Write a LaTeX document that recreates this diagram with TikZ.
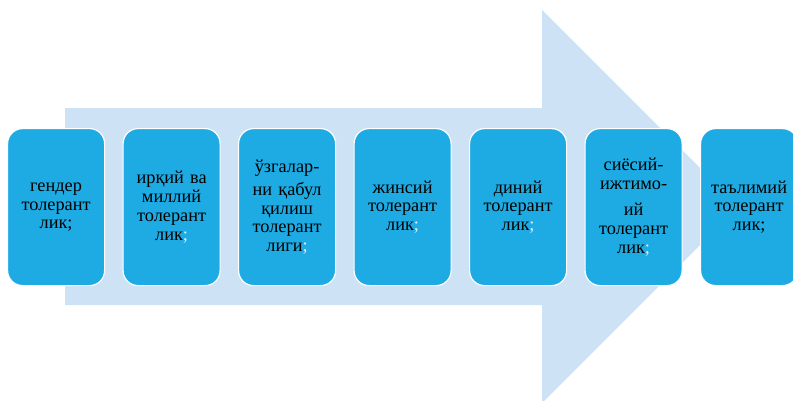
\documentclass[tikz,border=0pt]{standalone}
\usepackage{fontspec}
\setmainfont{Liberation Serif}
\definecolor{arrowblue}{HTML}{CDE2F4}
\definecolor{boxblue}{HTML}{1EABE3}
\definecolor{semi}{HTML}{DDF2FF}
\newcommand{\lightsemi}{\textcolor{semi}{;}}
\tikzset{
  stepbox/.style={draw=white, line width=1.2pt, fill=boxblue, rounded corners=15pt,
    minimum width=97pt, minimum height=157pt, text width=95pt, align=center,
    inner sep=0pt, font=\fontsize{18.3pt}{18.7pt}\selectfont, anchor=north west},
  bigarrow/.style={fill=arrowblue, draw=none}
}
\begin{document}
\begin{tikzpicture}[x=1pt,y=-1pt]
\useasboundingbox (0,0) rectangle (793,400);
\clip (0,0) rectangle (793,400);
\fill[white] (0,0) rectangle (793,400);
\fill[bigarrow] (65,108) -- (542,108) -- (542,10) -- (738.5,206.5) -- (542,403) -- (542,305) -- (65,305) -- cycle;
\node[stepbox] (b1) at (7,128) {гендер\\толерант\\лик;};
\node[stepbox] (b2) at (122.5,128) {ирқий ва\\миллий\\толерант\\лик\lightsemi};
\node[stepbox] (b3) at (238,128) {ўзгалар-\\[4.5pt]ни қабул\\қилиш\\толерант\\лиги\lightsemi};
\node[stepbox] (b4) at (353.5,128) {жинсий\\толерант\\лик\lightsemi};
\node[stepbox] (b5) at (469,128) {диний\\толерант\\лик\lightsemi};
\node[stepbox] (b6) at (584.5,128) {сиёсий-\\ижтимо-\\[8pt]ий\\толерант\\лик\lightsemi};
\node[stepbox] (b7) at (700,128) {таълимий\\толерант\\лик;};
\end{tikzpicture}
\end{document}
